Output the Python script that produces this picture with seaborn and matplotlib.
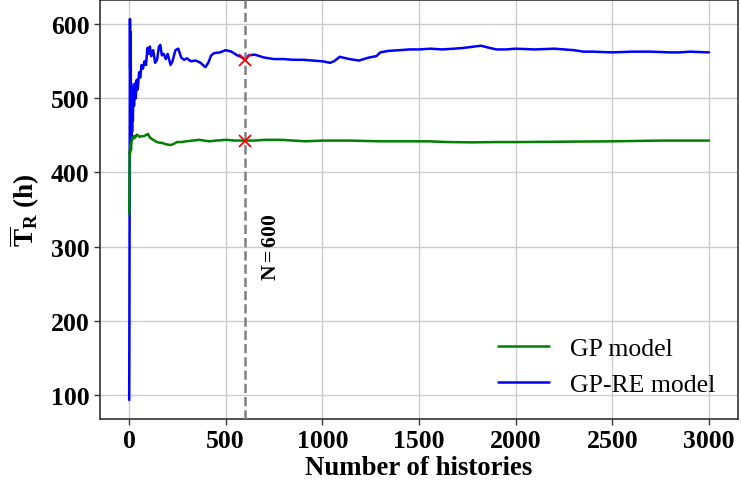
import numpy as np
import pandas as pd
import matplotlib
matplotlib.use("Agg")
import matplotlib.pyplot as plt
import seaborn as sns

# ---- data ----
gpre_x = [1, 2, 3, 4, 5, 6, 7, 8, 9, 10, 11, 12, 14, 16, 18, 20, 23, 26, 30, 35,
          40, 45, 52, 58, 65, 72, 80, 88, 95, 102, 108, 115, 125, 135, 145, 155,
          162, 170, 180, 190, 200, 215, 225, 240, 255, 270, 285, 300, 320, 345,
          370, 395, 410, 425, 440, 470, 500, 530, 560, 580, 600, 620, 650, 700,
          750, 800, 850, 900, 950, 1000, 1040, 1060, 1090, 1140, 1190, 1240,
          1280, 1300, 1340, 1400, 1450, 1500, 1560, 1620, 1680, 1730, 1790,
          1820, 1850, 1900, 1950, 2000, 2100, 2200, 2300, 2350, 2400, 2500,
          2600, 2700, 2800, 2850, 2900, 3000]
gpre_y = [93, 190, 330, 470, 607, 540, 590, 500, 560, 470, 520, 445, 490, 455,
          500, 470, 515, 490, 520, 500, 525, 512, 535, 528, 545, 540, 550, 545,
          568, 560, 570, 557, 565, 548, 552, 570, 572, 558, 560, 553, 560, 545,
          550, 565, 567, 555, 552, 554, 550, 551, 548, 542, 548, 558, 561, 562,
          565, 563, 558, 556, 552, 558, 559, 555, 553, 553, 552, 552, 551, 550,
          548, 550, 556, 553, 551, 555, 557, 562, 564, 565, 566, 566, 567, 566,
          567, 568, 570, 571, 569, 566, 566, 567, 566, 567, 565, 563, 563, 562,
          563, 563, 562, 562, 563, 562]

gp_x = [1, 2, 3, 4, 5, 6, 8, 10, 13, 16, 20, 26, 32, 40, 47, 55, 65, 78, 90,
        98, 108, 119, 132, 145, 160, 171, 190, 217, 235, 248, 270, 295, 330,
        362, 390, 414, 450, 502, 550, 600, 650, 700, 791, 850, 915, 1000, 1138,
        1300, 1400, 1551, 1650, 1774, 1900, 2001, 2239, 2497, 2756, 3000]
gp_y = [344, 380, 410, 428, 425, 432, 438, 430, 440, 447, 445, 449, 447, 451,
        450, 448, 449, 449, 451, 452, 447, 445, 443, 441, 440, 440, 438, 437,
        439, 441, 441, 442, 443, 444, 443, 442, 443, 444, 443, 443, 443, 444,
        444, 443, 442, 443, 443, 442, 442, 442, 441, 440.6, 441, 441, 441.5,
        442, 443, 443]

n_mark = 600
labels = ["GP model", "GP-RE model"]
colors = {"GP model": "green", "GP-RE model": "blue"}

df_gp = pd.DataFrame({"x": gp_x, "y": gp_y, "model": labels[0]})
df_re = pd.DataFrame({"x": gpre_x, "y": gpre_y, "model": labels[1]})

# ---- style ----
sns.set_style("whitegrid", {"grid.color": "#cccccc", "axes.edgecolor": "#333333"})
plt.rcParams["font.family"] = ["Liberation Serif", "DejaVu Serif"]
plt.rcParams["mathtext.fontset"] = "custom"
plt.rcParams["mathtext.rm"] = "Liberation Serif"
plt.rcParams["mathtext.bf"] = "Liberation Serif:bold"
plt.rcParams["mathtext.it"] = "Liberation Serif:italic"
plt.rcParams["text.color"] = "black"
plt.rcParams["axes.labelcolor"] = "black"
plt.rcParams["xtick.color"] = "black"
plt.rcParams["ytick.color"] = "black"

fig = plt.figure(figsize=(7.41, 4.85), dpi=100)
ax = fig.add_axes([100 / 741, 65 / 485, 638 / 741, 419 / 485])

sns.lineplot(data=df_re, x="x", y="y", color=colors[labels[1]], lw=1.8,
             ax=ax, label=labels[1], estimator=None, sort=True)
sns.lineplot(data=df_gp, x="x", y="y", color=colors[labels[0]], lw=1.8,
             ax=ax, label=labels[0], estimator=None, sort=True)

ax.axvline(n_mark, color="gray", ls="--", lw=1.8, zorder=3)
ym_re = np.interp(n_mark, gpre_x, gpre_y)
ym_gp = np.interp(n_mark, gp_x, gp_y)
ax.plot([n_mark, n_mark], [ym_re, ym_gp], ls="none", marker="x", color="red",
        ms=9, mew=1.3, zorder=4)

ax.text(735, 300, r"$\mathbf{N=600}$", rotation=90, ha="center", va="center",
        fontsize=15.5, fontweight="bold", color="black")

ax.set_xticks([0, 500, 1000, 1500, 2000, 2500, 3000])
ax.set_yticks([100, 200, 300, 400, 500, 600])
ax.set_xlim(-150, 3150)
ax.set_ylim(67.3, 632.7)
ax.tick_params(axis="both", labelsize=18.5, length=4, width=1, color="#333333",
               labelcolor="black", bottom=True, left=True)
for lab in ax.get_xticklabels() + ax.get_yticklabels():
    lab.set_fontweight("bold")
ax.grid(True, color="#cccccc", lw=1)
for s in ax.spines.values():
    s.set_linewidth(1.2)
    s.set_color("#333333")

ax.set_xlabel("Number of histories", fontsize=19.3, fontweight="bold",
              labelpad=2, color="black")
ax.set_ylabel(r"$\mathbf{\overline{T}_R}$ (h)", fontsize=19.5, fontweight="bold",
              labelpad=6, color="black")

h, l = ax.get_legend_handles_labels()
order = [l.index(labels[0]), l.index(labels[1])]
leg = ax.legend([h[i] for i in order], [l[i] for i in order], loc="lower right",
                frameon=False, fontsize=18.5, handlelength=2.0)
for t in leg.get_texts():
    t.set_color("black")

fig.savefig("out.png", dpi=100)
